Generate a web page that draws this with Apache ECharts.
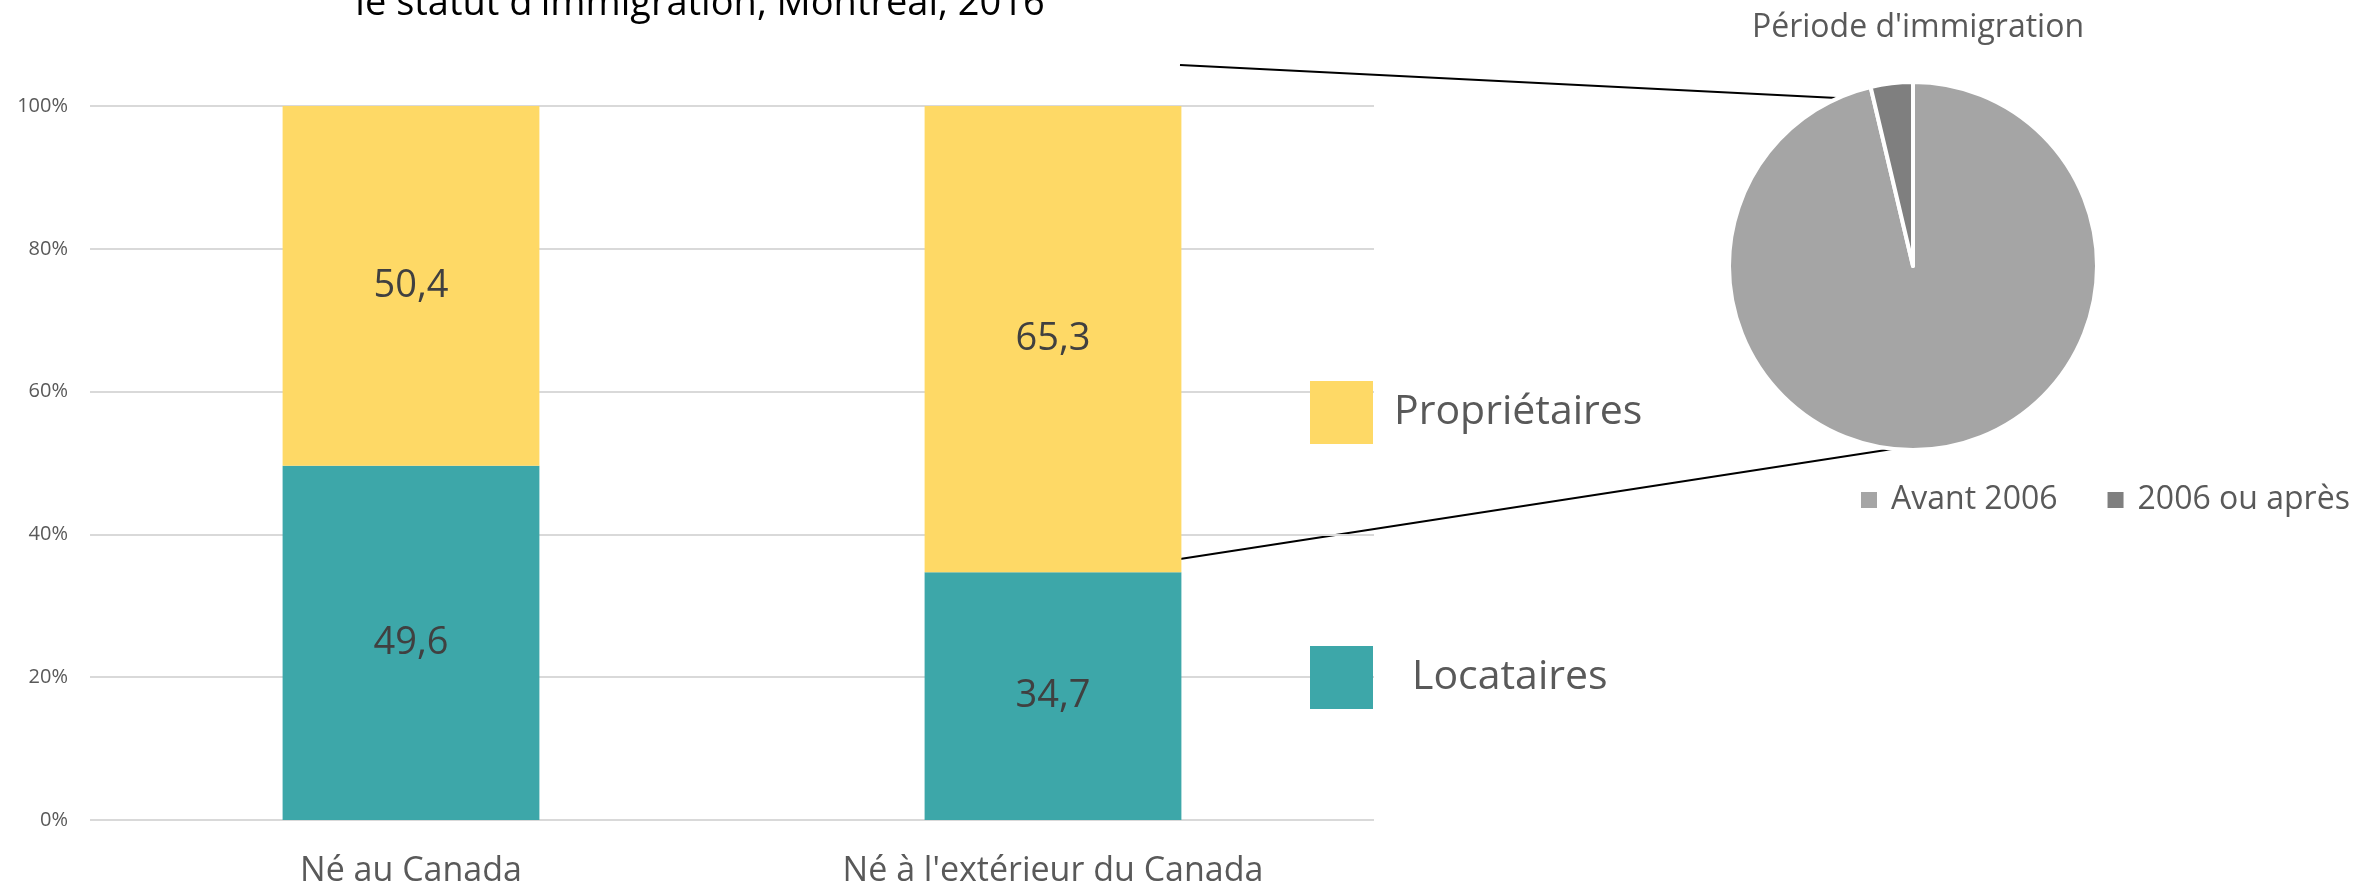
<!DOCTYPE html>
<html>
<head>
<meta charset="utf-8">
<script src="https://cdn.jsdelivr.net/npm/echarts@6/dist/echarts.min.js"></script>
<style>
html, body { margin: 0; padding: 0; background: #fff; }
#chart_container { width: 2374px; height: 883px; }
</style>
</head>
<body>
<div id="chart_container"></div>
<script>
// données
const categories = ["Né au Canada", "Né à l'extérieur du Canada"]
const locataires = [49.6, 34.7]
const proprietaires = [50.4, 65.3]
const yTicks = [0, 20, 40, 60, 80, 100]
const periodeNames = ["Avant 2006", "2006 ou après"]
const periodeValues = [96.3, 3.7]

const font = "'Open Sans', 'Noto Sans', sans-serif"
const grey = "#595959"

const chart = echarts.init(document.querySelector("#chart_container"))

const labelFmt = (p) => p.value.toFixed(1).replace(".", ",")

chart.setOption({
	animation: false,
	textStyle: { fontFamily: font },
	title: {
		text: "Période d'immigration",
		left: 1913,
		top: 7,
		textAlign: "center",
		textStyle: { fontFamily: font, fontSize: 32, fontWeight: "normal", color: grey },
	},
	legend: [
		{
			data: ["Propriétaires"],
			left: 1310,
			top: 381,
			padding: 0,
			icon: "rect",
			itemWidth: 63,
			itemHeight: 63,
			selectedMode: false,
			textStyle: { fontFamily: font, fontSize: 41, color: grey, padding: [0, 0, 0, 16] },
		},
		{
			data: ["Locataires"],
			left: 1310,
			top: 646,
			padding: 0,
			icon: "rect",
			itemWidth: 63,
			itemHeight: 63,
			selectedMode: false,
			textStyle: { fontFamily: font, fontSize: 41, color: grey, padding: [0, 0, 0, 34] },
		},
		{
			data: periodeNames,
			left: 1859,
			top: 484,
			padding: 0,
			icon: "rect",
			itemWidth: 18,
			itemHeight: 18,
			itemGap: 48,
			selectedMode: false,
			textStyle: { fontFamily: font, fontSize: 32, color: grey, padding: [0, 0, 0, 8] },
		},
	],
	grid: {
		left: 90,
		right: 1000,
		top: 106,
		bottom: 63,
		outerBoundsMode: "none",
		containLabel: false,
	},
	xAxis: {
		type: "category",
		data: categories,
		axisLine: { show: false },
		axisTick: { show: false },
		axisLabel: { fontFamily: font, fontSize: 34, color: grey, margin: 34 },
	},
	yAxis: {
		type: "value",
		min: yTicks[0],
		max: yTicks[yTicks.length - 1],
		interval: 20,
		axisLine: { show: false },
		axisTick: { show: false },
		axisLabel: { fontFamily: font, fontSize: 20, color: grey, margin: 22, formatter: "{value}%" },
		splitLine: { lineStyle: { color: "#d9d9d9", width: 2 } },
	},
	series: [
		{
			name: "Locataires",
			type: "bar",
			stack: "total",
			barWidth: "40%",
			data: locataires,
			itemStyle: { color: "#3DA7A9" },
			label: { show: true, position: "inside", formatter: labelFmt, fontFamily: font, fontSize: 38, color: "#404040" },
			silent: true,
		},
		{
			name: "Propriétaires",
			type: "bar",
			stack: "total",
			barWidth: "40%",
			data: proprietaires,
			itemStyle: { color: "#FED966" },
			label: { show: true, position: "inside", formatter: labelFmt, fontFamily: font, fontSize: 38, color: "#404040" },
			silent: true,
		},
		{
			name: "Période d'immigration",
			type: "pie",
			center: [1913, 266],
			radius: 184,
			startAngle: 90,
			clockwise: true,
			silent: true,
			label: { show: false },
			labelLine: { show: false },
			itemStyle: { borderColor: "#fff", borderWidth: 4 },
			color: ["#A5A5A5", "#7F7F7F"],
			data: periodeNames.map((n, i) => ({ name: n, value: periodeValues[i] })),
		},
	],
	graphic: [
		{
			type: "text",
			x: 700,
			y: 4,
			style: {
				text: "le statut d'immigration, Montréal, 2016",
				font: `38px ${font}`,
				fill: "#000",
				align: "center",
				verticalAlign: "middle",
			},
		},
		// traits de liaison vers le camembert
		{
			type: "line",
			shape: { x1: 1180, y1: 65, x2: 1877, y2: 100 },
			style: { stroke: "#000", lineWidth: 2 },
		},
		{
			type: "line",
			shape: { x1: 1180, y1: 559, x2: 1912, y2: 446 },
			style: { stroke: "#000", lineWidth: 2 },
		},
	],
})
</script>
</body>
</html>
